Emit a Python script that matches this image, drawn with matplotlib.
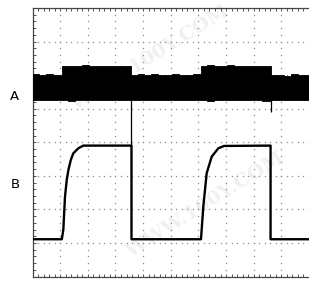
import numpy as np
import matplotlib
matplotlib.use("Agg")
import matplotlib.pyplot as plt

# scope screen: 10 x 8 divisions
n_xdiv = 10
n_ydiv = 8

# channel B: RC-shaped pulses (time in div, level in div)
b_t = [0.0, 1.06, 1.115, 1.175, 1.239, 1.297, 1.384, 1.476, 1.657, 1.837,
       3.58, 3.58, 6.094, 6.177, 6.300, 6.481, 6.720, 6.93, 8.61, 8.61, 10.0]
b_v = [1.11, 1.11, 1.39, 2.38, 2.88, 3.17, 3.47, 3.67, 3.82, 3.90,
       3.90, 1.11, 1.11, 2.08, 3.08, 3.57, 3.82, 3.89, 3.90, 1.11, 1.11]

# channel A: noisy band, upper / lower envelope
a_t = [0.0, 0.25, 0.5, 0.75,
       1.08, 1.3, 1.55, 1.8, 2.05, 2.3, 2.55, 2.8, 3.05, 3.3,
       3.58, 3.8, 4.05, 4.3, 4.55, 4.8, 5.05, 5.3, 5.55, 5.8,
       6.094, 6.3, 6.55, 6.8, 7.05, 7.3, 7.55, 7.8, 8.05, 8.3,
       8.61, 8.85, 9.1, 9.35, 9.6, 9.85, 10.0]
a_hi = [6.02, 6.00, 6.03, 6.01,
        6.26, 6.28, 6.27, 6.29, 6.27, 6.26, 6.28, 6.27, 6.26, 6.27,
        6.00, 6.02, 5.99, 6.02, 6.00, 5.99, 6.02, 6.00, 6.01, 6.03,
        6.27, 6.29, 6.26, 6.28, 6.29, 6.27, 6.27, 6.28, 6.26, 6.27,
        5.99, 6.01, 5.98, 6.02, 6.00, 6.01, 6.01]
a_lo = [5.27, 5.26, 5.27, 5.25,
        5.26, 5.24, 5.27, 5.26, 5.25, 5.26, 5.25, 5.27, 5.26, 5.26,
        5.27, 5.26, 5.27, 5.25, 5.26, 5.27, 5.26, 5.27, 5.26, 5.25,
        5.26, 5.24, 5.26, 5.25, 5.27, 5.25, 5.26, 5.26, 5.25, 5.24,
        5.26, 5.27, 5.26, 5.27, 5.25, 5.26, 5.26]
# glitches on A at the falling edges of B
a_spike_t = [3.58, 8.61]
a_spike_lo = [3.90, 4.90]

fig = plt.figure(figsize=(3.09, 2.82), dpi=100)
ax = fig.add_axes([32.5 / 309, 5.5 / 282, (309 - 32.5) / 309, 268.5 / 282])
ax.set_xlim(0, n_xdiv)
ax.set_ylim(0, n_ydiv)

# faint watermark
wm = [(150, 58), (205, 205)]
for px, py in wm:
    ax.text(px / 309, 1 - py / 282, "WWW.100Y.COM", transform=fig.transFigure,
            ha="center", va="center", rotation=32, fontsize=14,
            family="DejaVu Serif", fontweight="bold", color="#f0f0f0",
            zorder=0.5, clip_on=False)

# dotted graticule
minor = np.arange(0, n_xdiv + 0.01, 0.2)
minor_y = np.arange(0, n_ydiv + 0.01, 0.2)
for gx in range(1, n_xdiv):
    ax.plot(np.full_like(minor_y, gx), minor_y, ls="none", marker="s",
            ms=0.9, mew=0, color="#8c8c8c", zorder=1)
for gy in range(1, n_ydiv):
    ax.plot(minor, np.full_like(minor, gy), ls="none", marker="s",
            ms=0.9, mew=0, color="#8c8c8c", zorder=1)

# traces
ax.fill_between(a_t, a_lo, a_hi, step="post", color="black", lw=0.6,
                edgecolor="black", zorder=3)
ax.vlines(a_spike_t, a_spike_lo, 5.27, color="black", lw=0.9, zorder=3)
ax.plot(b_t, b_v, color="black", lw=1.7, zorder=3)

ax.set_xticks(range(0, n_xdiv + 1))
ax.set_yticks(range(0, n_ydiv + 1))
ax.set_xticks(minor, minor=True)
ax.set_yticks(minor_y, minor=True)
ax.tick_params(which="both", direction="in", length=2.2, width=0.7,
               top=True, bottom=True, left=True, right=False,
               labelbottom=False, labelleft=False, color="#555555")
for side in ["left", "top", "bottom"]:
    ax.spines[side].set_linewidth(0.9)
    ax.spines[side].set_color("#444444")
ax.spines["right"].set_visible(False)

fig.text(14 / 309, 1 - 96 / 282, "A", ha="center", va="center", fontsize=9.5)
fig.text(15 / 309, 1 - 184 / 282, "B", ha="center", va="center", fontsize=9.5)

fig.savefig("out.png", dpi=100)
